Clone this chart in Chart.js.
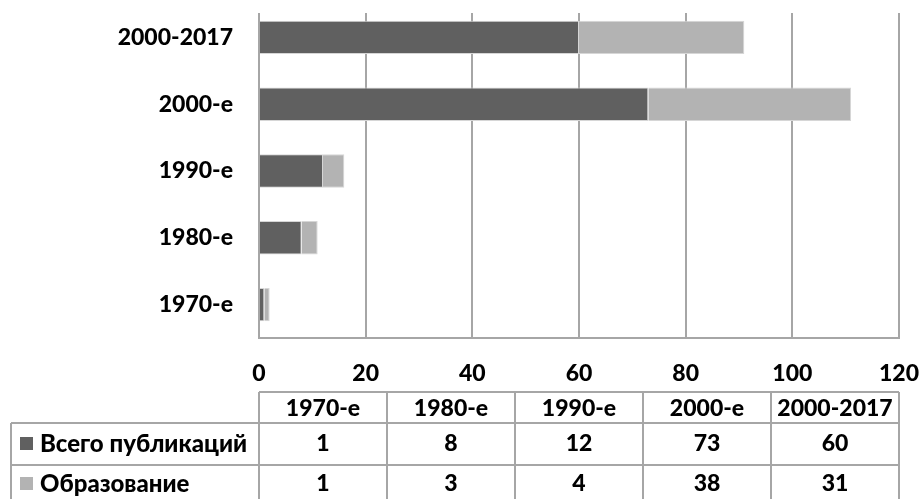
<!DOCTYPE html>
<html lang="ru">
<head>
<meta charset="UTF-8">
<title>Публикации по десятилетиям</title>
<script src="https://cdn.jsdelivr.net/npm/chart.js"></script>
<style>
  html, body { margin: 0; padding: 0; background: #fff; }
</style>
</head>
<body>
<canvas id="chart" width="922" height="499"></canvas>
<script>
// data
const periods = ['1970-е', '1980-е', '1990-е', '2000-е', '2000-2017'];
const totalPubs = [1, 8, 12, 73, 60];
const education = [1, 3, 4, 38, 31];
const seriesNames = ['Всего публикаций', 'Образование'];
const xTicks = [0, 20, 40, 60, 80, 100, 120];

const DARK = '#606060';
const LIGHT = '#b3b3b3';
const GRID = '#a6a6a6';
const FONT = 'Lato, "Open Sans", sans-serif';

Chart.defaults.font.family = FONT;
Chart.defaults.font.weight = '900';
Chart.defaults.font.size = 23;
Chart.defaults.color = '#000';

// gridlines start a little below the top of the plot area
const gridTop = {
  id: 'gridTop',
  beforeDatasetsDraw(chart) {
    const { ctx, chartArea } = chart;
    ctx.save();
    ctx.fillStyle = '#fff';
    ctx.fillRect(chartArea.left - 3, 0, chartArea.right - chartArea.left + 6, 13);
    ctx.restore();
  }
};

// data table under the chart, columns follow the x scale width
const dataTable = {
  id: 'dataTable',
  afterDraw(chart) {
    const ctx = chart.ctx;
    const x = chart.scales.x;
    const labels = chart.data.labels;
    const n = labels.length;
    const colW = (x.right - x.left) / n;
    const rowY = [392, 423, 465, 507];
    const tableLeft = 11;

    ctx.save();
    ctx.strokeStyle = GRID;
    ctx.lineWidth = 2;
    ctx.beginPath();
    ctx.moveTo(x.left, rowY[0]); ctx.lineTo(x.right, rowY[0]);
    for (let r = 1; r < rowY.length; r++) {
      ctx.moveTo(tableLeft, rowY[r]); ctx.lineTo(x.right, rowY[r]);
    }
    ctx.moveTo(tableLeft, rowY[1]); ctx.lineTo(tableLeft, rowY[3]);
    for (let i = 0; i <= n; i++) {
      const cx = x.left + i * colW;
      ctx.moveTo(cx, rowY[0]); ctx.lineTo(cx, rowY[3]);
    }
    ctx.stroke();

    ctx.fillStyle = '#000';
    ctx.font = '900 23px ' + FONT;
    ctx.textAlign = 'center';
    ctx.textBaseline = 'middle';
    labels.forEach((lab, i) => {
      ctx.fillText(lab, x.left + (i + 0.5) * colW, (rowY[0] + rowY[1]) / 2 + 1);
    });
    chart.data.datasets.forEach((ds, r) => {
      const cy = r === 0 ? 444 : 484;
      ds.data.forEach((v, i) => {
        ctx.fillText(String(v), x.left + (i + 0.5) * colW, cy);
      });
      ctx.fillStyle = ds.backgroundColor;
      ctx.fillRect(20, cy - 7, 13, 13);
      ctx.fillStyle = '#000';
      ctx.textAlign = 'left';
      ctx.font = '900 24px ' + FONT;
      ctx.fillText(ds.label, 40, cy);
      ctx.font = '900 23px ' + FONT;
      ctx.textAlign = 'center';
    });
    ctx.restore();
  }
};

new Chart(document.getElementById('chart'), {
  type: 'bar',
  data: {
    labels: periods,
    datasets: [
      { label: seriesNames[0], data: totalPubs, backgroundColor: DARK, borderColor: '#d6d6d6', borderWidth: 1 },
      { label: seriesNames[1], data: education, backgroundColor: LIGHT, borderColor: '#d6d6d6', borderWidth: 1 }
    ]
  },
  options: {
    indexAxis: 'y',
    responsive: false,
    animation: false,
    layout: { padding: { top: 4, right: 23, left: 0, bottom: 111 } },
    plugins: {
      legend: { display: false },
      tooltip: { enabled: false }
    },
    datasets: {
      bar: { categoryPercentage: 1, barPercentage: 0.5 }
    },
    scales: {
      x: {
        stacked: true,
        min: 0,
        max: 120,
        afterBuildTicks: (s) => { s.ticks = xTicks.map(v => ({ value: v })); },
        afterFit: (s) => { s.height = 50; s.paddingLeft = 0; s.paddingRight = 0; },
        grid: { color: GRID, lineWidth: 2, drawTicks: false },
        border: { color: GRID, width: 2 },
        ticks: { padding: 22, maxRotation: 0 }
      },
      y: {
        stacked: true,
        reverse: true,
        afterFit: (s) => { s.width = 259; s.paddingTop = 0; s.paddingBottom = 0; },
        grid: { display: false, drawTicks: false },
        border: { display: false },
        ticks: { padding: 26 }
      }
    }
  },
  plugins: [gridTop, dataTable]
});
</script>
</body>
</html>
